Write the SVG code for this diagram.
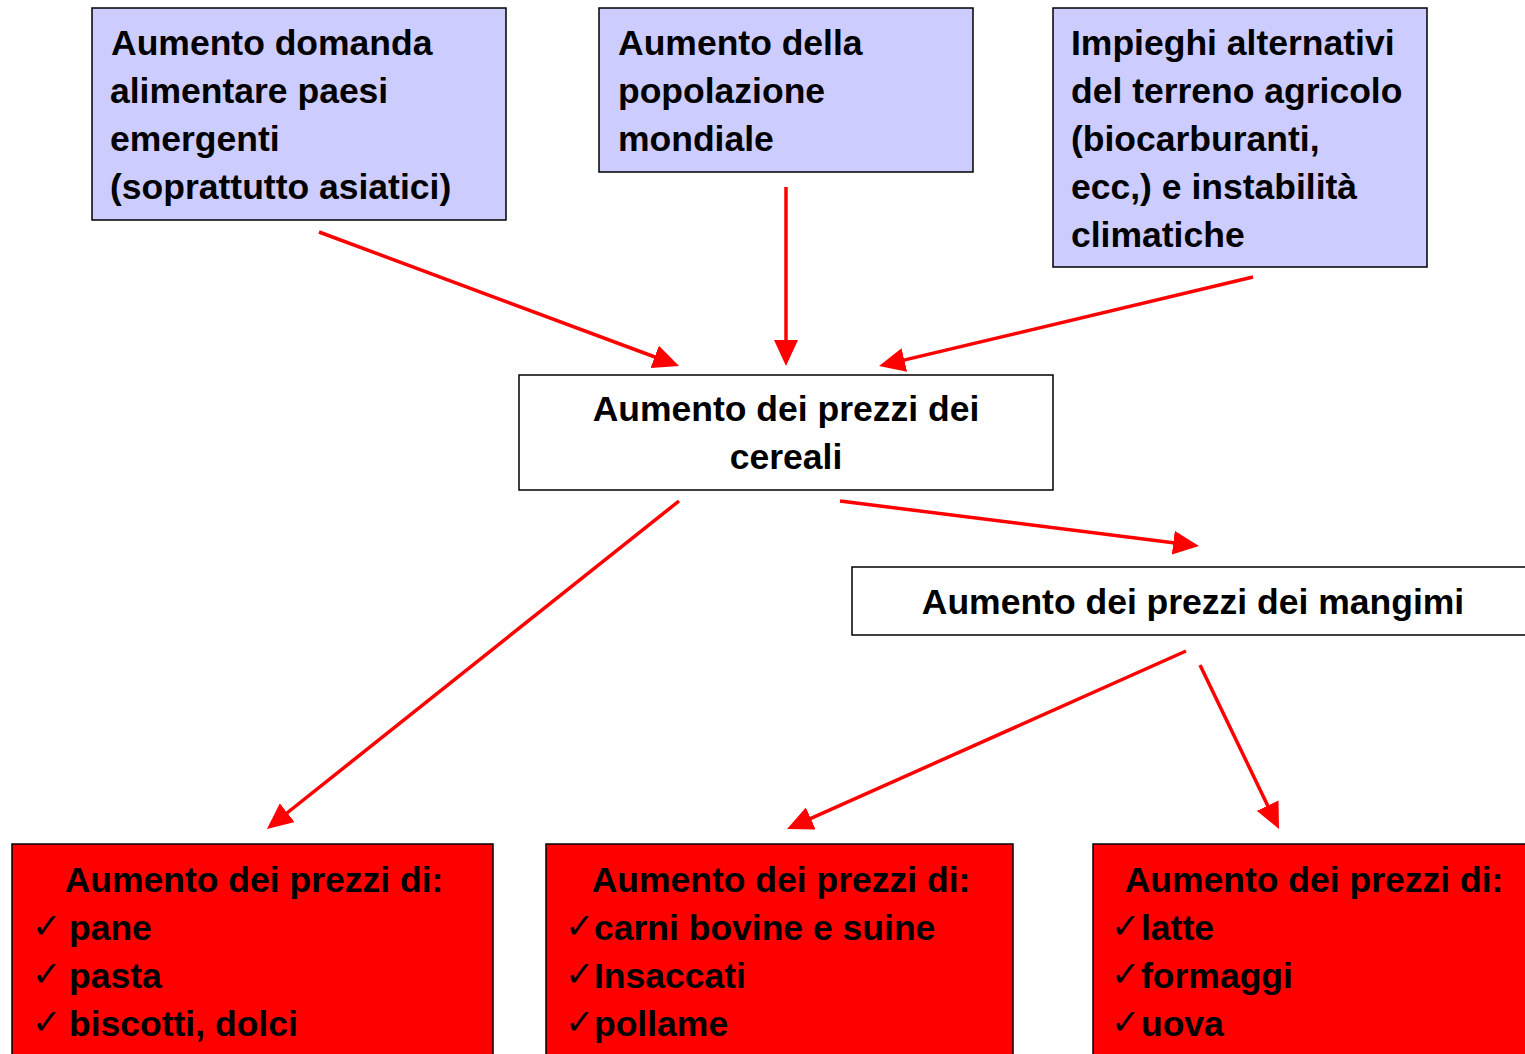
<svg xmlns="http://www.w3.org/2000/svg" width="1525" height="1054" viewBox="0 0 1525 1054">
<style>
.box{stroke:#000;stroke-width:1.5}
.blue{fill:#ccccff}
.white{fill:#fff}
.red{fill:#ff0000}
.t{font-family:"Liberation Sans",Arial,sans-serif;font-weight:bold;font-size:35.5px;fill:#000}
.c{text-anchor:middle}
.ck{font-family:"DejaVu Sans",sans-serif;font-weight:normal;font-size:35px;fill:#000}
.arr{stroke:#ff0000;stroke-width:3.5;fill:none;marker-end:url(#ah)}
</style>
<defs>
<marker id="ah" viewBox="0 0 26 24" refX="6" refY="12" markerWidth="26" markerHeight="24" markerUnits="userSpaceOnUse" orient="auto">
<path d="M0,0 L26,12 L0,24 z" fill="#ff0000"/>
</marker>
</defs>
<rect width="1525" height="1054" fill="#fff"/>
<g id="n1">
<rect class="box blue" x="92" y="8" width="414" height="212"/>
<text class="t" x="111" y="55">Aumento domanda</text>
<text class="t" x="110" y="103">alimentare paesi</text>
<text class="t" x="110" y="151">emergenti</text>
<text class="t" x="110" y="199">(soprattutto asiatici)</text>
</g>
<g id="n2">
<rect class="box blue" x="599" y="8" width="374" height="164"/>
<text class="t" x="618" y="55">Aumento della</text>
<text class="t" x="618" y="103">popolazione</text>
<text class="t" x="618" y="151">mondiale</text>
</g>
<g id="n3">
<rect class="box blue" x="1053" y="8" width="374" height="259"/>
<text class="t" x="1071" y="55">Impieghi alternativi</text>
<text class="t" x="1071" y="103">del terreno agricolo</text>
<text class="t" x="1071" y="151">(biocarburanti,</text>
<text class="t" x="1071" y="199">ecc,) e instabilità</text>
<text class="t" x="1071" y="247">climatiche</text>
</g>
<g id="n4">
<rect class="box white" x="519" y="375" width="534" height="115"/>
<text class="t c" x="786" y="421">Aumento dei prezzi dei</text>
<text class="t c" x="786" y="469">cereali</text>
</g>
<g id="n5">
<rect class="box white" x="852" y="567" width="680" height="68"/>
<text class="t c" x="1193" y="614">Aumento dei prezzi dei mangimi</text>
</g>
<g id="n6">
<rect class="box red" x="12" y="844" width="481" height="220"/>
<text class="t c" x="254" y="892">Aumento dei prezzi di:</text>
<text class="ck" x="32" y="938">✓</text>
<text class="t" x="69" y="940">pane</text>
<text class="ck" x="32" y="986">✓</text>
<text class="t" x="69" y="988">pasta</text>
<text class="ck" x="32" y="1034">✓</text>
<text class="t" x="69" y="1036">biscotti, dolci</text>
</g>
<g id="n7">
<rect class="box red" x="546" y="844" width="467" height="220"/>
<text class="t c" x="781" y="892">Aumento dei prezzi di:</text>
<text class="ck" x="565" y="938">✓</text>
<text class="t" x="594" y="940">carni bovine e suine</text>
<text class="ck" x="565" y="986">✓</text>
<text class="t" x="594" y="988">Insaccati</text>
<text class="ck" x="565" y="1034">✓</text>
<text class="t" x="594" y="1036">pollame</text>
</g>
<g id="n8">
<rect class="box red" x="1093" y="844" width="450" height="220"/>
<text class="t c" x="1314" y="892">Aumento dei prezzi di:</text>
<text class="ck" x="1111" y="938">✓</text>
<text class="t" x="1141" y="940">latte</text>
<text class="ck" x="1111" y="986">✓</text>
<text class="t" x="1141" y="988">formaggi</text>
<text class="ck" x="1111" y="1034">✓</text>
<text class="t" x="1141" y="1036">uova</text>
</g>
<g id="connectors">
<line class="arr" x1="319" y1="232" x2="660.3" y2="359"/>
<line class="arr" x1="786" y1="187" x2="786" y2="346"/>
<line class="arr" x1="1253" y1="277" x2="898.5" y2="361.4"/>
<line class="arr" x1="840" y1="501" x2="1179.2" y2="543.5"/>
<line class="arr" x1="679" y1="501" x2="282.6" y2="816.5"/>
<line class="arr" x1="1186" y1="651" x2="805.3" y2="820.9"/>
<line class="arr" x1="1200" y1="665" x2="1270.3" y2="811"/>
</g>
</svg>
